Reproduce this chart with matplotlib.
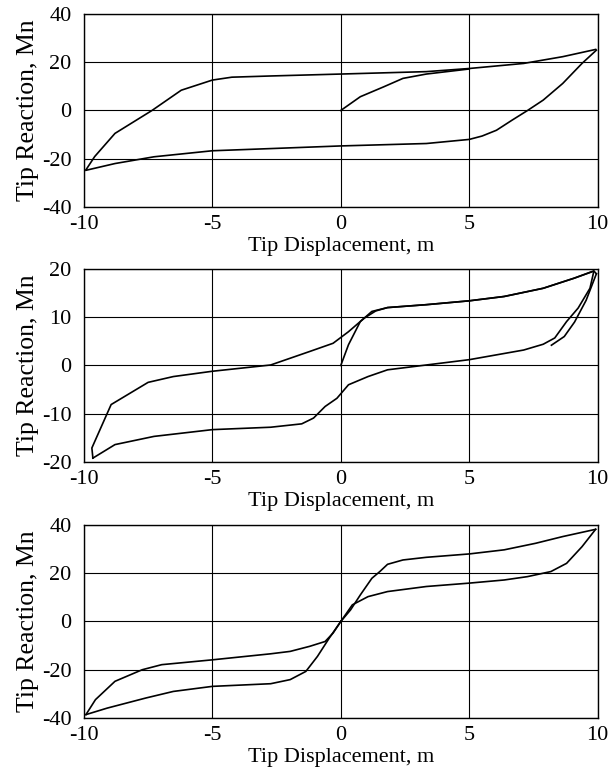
import matplotlib.pyplot as plt
import numpy as np

# шрифт как в оригинале (Times)
plt.rcParams['font.family'] = ['Liberation Serif', 'DejaVu Serif']
plt.rcParams['axes.unicode_minus'] = False  # обычный дефис в подписях

# панель 1: петля гистерезиса
x1_load = [0, 0.76, 1.67, 2.42, 3.33, 5.0]
y1_load = [0, 5.7, 9.8, 13.3, 15.1, 17.2]
x1_unload = [9.95, 9.39, 8.64, 7.88, 7.27, 6.67, 6.06, 5.5, 5.0, 3.33, 0, -2.73, -5.0, -7.27, -8.79, -9.92]
y1_unload = [25.0, 19.5, 11.2, 4.3, 0, -4.0, -8.2, -10.6, -12.0, -13.7, -14.7, -15.8, -16.7, -19.2, -22.0, -24.8]
x1_reload = [-9.92, -9.58, -8.79, -7.35, -6.21, -5.0, -4.24, -2.73, 0, 3.33, 5.0, 7.12, 8.64, 9.92]
y1_reload = [-24.6, -19.1, -9.5, 0, 8.4, 12.6, 13.8, 14.3, 15.1, 16.1, 17.4, 19.5, 22.3, 25.3]

# панель 2
x2_load = [0, 0.3, 0.76, 1.21, 1.82, 3.33, 5.0, 6.36, 7.88, 9.09, 9.77]
y2_load = [0, 4.3, 9.1, 11.2, 12.0, 12.6, 13.4, 14.3, 16.0, 18.1, 19.4]
x2_unload = [9.85, 9.7, 9.24, 8.79, 8.33, 7.88, 7.12, 5.0, 3.33, 1.82, 1.06, 0.3, -0.15, -0.61, -1.06, -1.52, -2.73, -5.0, -7.27, -8.79, -9.65]
y2_unload = [19.5, 16.0, 11.9, 9.1, 5.7, 4.4, 3.2, 1.2, 0.1, -0.9, -2.3, -4.0, -6.8, -8.5, -10.9, -12.1, -12.8, -13.3, -14.7, -16.4, -19.2]
x2_reload = [-9.65, -9.69, -8.94, -7.5, -6.52, -5.0, -2.73, -1.21, -0.3, 0.3, 0.91, 1.36, 1.82, 3.33, 5.0, 6.36, 7.88, 9.09, 9.85, 9.95]
y2_reload = [-19.2, -17.1, -8.1, -3.5, -2.3, -1.2, 0.1, 2.9, 4.6, 7.0, 9.8, 11.3, 12.0, 12.6, 13.4, 14.3, 16.0, 18.1, 19.6, 19.0]
x2_unload2 = [9.95, 9.55, 9.1, 8.7, 8.2]
y2_unload2 = [19.0, 13.5, 9.0, 6.0, 4.2]

# панель 3
x3_up_r = [0, 0.38, 0.76, 1.21, 1.52, 1.82, 2.42, 3.33, 5.0, 6.36, 7.58, 8.64, 9.92]
y3_up_r = [0, 4.8, 11.0, 17.9, 20.7, 23.7, 25.5, 26.6, 28.0, 29.7, 32.4, 35.2, 38.2]
x3_lo_r = [9.92, 9.39, 8.79, 8.18, 7.27, 6.36, 5.0, 3.33, 1.82, 1.06, 0.45, 0]
y3_lo_r = [38.2, 31.0, 24.1, 20.7, 18.6, 17.2, 15.9, 14.5, 12.4, 10.3, 6.9, 0]
x3_up_l = [0, -0.3, -0.61, -1.21, -1.97, -2.73, -5.0, -6.97, -7.73, -8.79, -9.55, -9.92]
y3_up_l = [0, -4.8, -8.3, -10.3, -12.4, -13.4, -15.9, -17.9, -20.0, -24.8, -32.4, -38.6]
x3_lo_l = [-9.92, -9.09, -7.58, -6.52, -5.0, -2.73, -1.97, -1.36, -0.91, -0.45, 0]
y3_lo_l = [-38.6, -35.9, -31.7, -29.0, -26.9, -25.8, -24.1, -20.7, -14.5, -6.9, 0]

panels = [
    [(x1_load, y1_load), (x1_unload, y1_unload), (x1_reload, y1_reload)],
    [(x2_load, y2_load), (x2_unload, y2_unload), (x2_reload, y2_reload), (x2_unload2, y2_unload2)],
    [(x3_up_r, y3_up_r), (x3_lo_r, y3_lo_r), (x3_up_l, y3_up_l), (x3_lo_l, y3_lo_l)],
]
ylims = [(-40, 40), (-20, 20), (-40, 40)]
yticks = [[-40, -20, 0, 20, 40], [-20, -10, 0, 10, 20], [-40, -20, 0, 20, 40]]
xticks = [-10, -5, 0, 5, 10]
bottoms = [0.735, 0.4085, 0.0807]

fig = plt.figure(figsize=(6.08, 7.81), dpi=100)

for i in range(3):
    ax = fig.add_axes([0.138, bottoms[i], 0.845, 0.2471])
    for xs, ys in panels[i]:
        ax.plot(xs, ys, color='black', lw=1.2)
    ax.set_xlim(-10, 10)
    ax.set_ylim(*ylims[i])
    ax.set_xticks(xticks)
    ax.set_yticks(yticks[i])
    ax.grid(True, color='black', lw=0.8)
    ax.tick_params(length=0, labelsize=16)
    ax.tick_params(axis='y', pad=9)
    ax.tick_params(axis='x', pad=6)
    for s in ax.spines.values():
        s.set_linewidth(1.0)
    ax.set_xlabel("Tip Displacement, m", fontsize=16, labelpad=2)
    ax.set_ylabel("Tip Reaction, Mn", fontsize=18.5, labelpad=2)

plt.savefig("out.png", dpi=100)
